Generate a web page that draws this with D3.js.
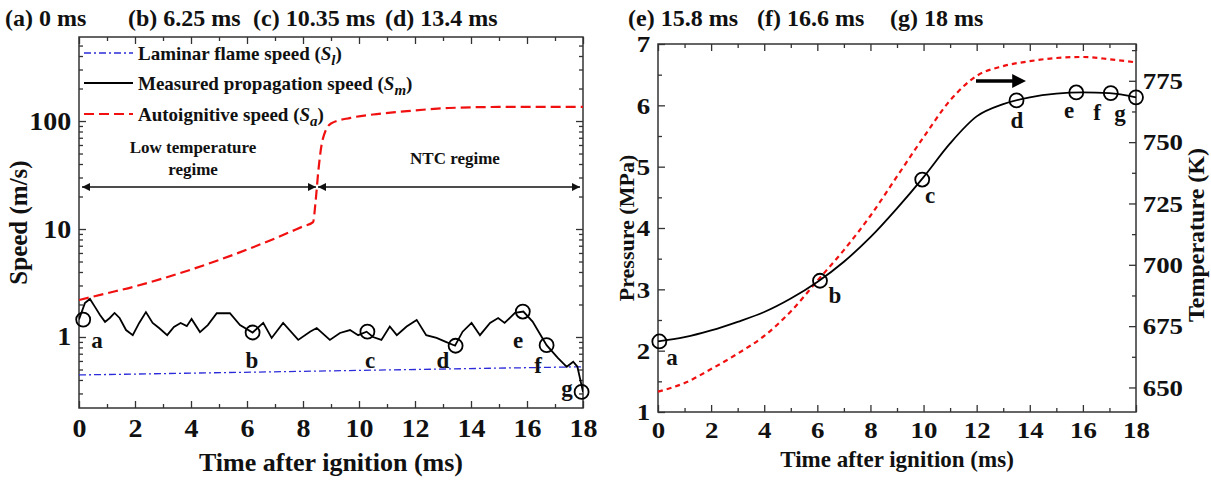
<!DOCTYPE html>
<html>
<head>
<meta charset="utf-8">
<script src="https://cdn.jsdelivr.net/npm/d3@7"></script>
<style>
  body { margin: 0; background: #fff; }
  svg text { font-family: "Liberation Serif", "Times New Roman", serif; font-weight: bold; fill: #111; }
</style>
</head>
<body>
<svg id="chart" width="1211" height="483"></svg>
<script>
// ---- data ----
const frameTitles = ['(a) 0 ms', '(b) 6.25 ms', '(c) 10.35 ms', '(d) 13.4 ms', '(e) 15.8 ms', '(f) 16.6 ms', '(g) 18 ms']

// left panel: speeds (m/s) vs time (ms)
const slT = [0, 18]
const slV = [0.445, 0.53]
const sqT = [0, 1, 2, 3, 4, 5, 6, 7, 8, 8.36, 8.45, 8.55, 8.7, 9, 9.7, 10.5, 11.5, 13.2, 15, 18]
const sqV = [2.2, 2.54, 2.94, 3.49, 4.21, 5.16, 6.45, 8.18, 10.57, 11.6, 18, 35, 67, 95, 107, 115, 122, 132, 135, 135]
const smT = [0, 0.21, 0.39, 0.57, 0.75, 0.93, 1.1, 1.27, 1.45, 1.68, 1.92, 2.15, 2.39, 2.63, 2.86, 3.15, 3.39, 3.63, 3.85, 4.02,
  4.32, 4.6, 4.92, 5.39, 5.75, 6.2, 6.58, 6.88, 7.29, 7.83, 8.25, 8.49, 8.96, 9.32, 9.68, 9.97, 10.27, 10.5, 10.8, 11.1,
  11.35, 11.7, 12.06, 12.4, 12.77, 13.1, 13.43, 13.7, 14.02, 14.32, 14.68, 14.97, 15.2, 15.57, 15.87, 16.2, 16.7, 17.1,
  17.42, 17.65, 17.8, 18]
const smV = [1.45, 2.06, 2.25, 1.9, 1.6, 1.38, 1.5, 1.67, 1.5, 1.16, 1.04, 1.35, 1.7, 1.35, 1.21, 1.04, 1.24, 1.35, 1.26, 1.47,
  1.11, 1.29, 1.66, 1.66, 1.29, 1.1, 1.35, 0.98, 1.35, 0.94, 1.12, 1.21, 0.94, 1.09, 1.16, 1.04, 1.12, 1.0, 0.94, 1.25,
  1.04, 1.25, 1.44, 1.04, 0.98, 0.9, 0.83, 1.12, 1.35, 1.04, 1.35, 1.5, 1.35, 1.67, 1.72, 1.39, 0.84, 0.64,
  0.53, 0.59, 0.53, 0.31]
const markLabels = ['a', 'b', 'c', 'd', 'e', 'f', 'g']
const smMarkT = [0.15, 6.2, 10.3, 13.45, 15.85, 16.7, 17.95]
const smMarkV = [1.45, 1.1, 1.12, 0.83, 1.72, 0.84, 0.31]
const legendNames = ['Laminar flame speed (', 'Measured propagation speed (', 'Autoignitive speed (']
const legendSubs = ['l', 'm', 'a']

// right panel: pressure (MPa) and temperature (K) vs time (ms)
const pT = [0, 1, 2, 3, 4, 5, 6, 7, 8, 9, 10, 11, 12, 13, 14, 15, 16, 17, 18]
const pV = [2.15, 2.22, 2.33, 2.47, 2.63, 2.85, 3.12, 3.45, 3.85, 4.32, 4.83, 5.38, 5.82, 6.02, 6.13, 6.19, 6.21, 6.2, 6.13]
const tT = [0, 1, 2, 3, 4, 5, 6, 7, 8, 9, 10, 11, 12, 13, 14, 15, 16, 17, 18]
const tV = [648.3, 651.8, 657.5, 663.8, 671, 681, 693.5, 706, 720, 736, 752, 767, 777, 781, 783, 784.3, 784.7, 783.8, 782.5]
const pMarkT = [0.05, 6.1, 9.95, 13.5, 15.75, 17.05, 18]
const pMarkV = [2.15, 3.14, 4.79, 6.08, 6.21, 6.2, 6.13]

const timeTicks = d3.range(0, 19, 2)
const timeMinor = d3.range(1, 18, 2)
const speedTicks = [1, 10, 100]
const speedMinor = [0.3, 0.4, 0.5, 0.6, 0.7, 0.8, 0.9, 2, 3, 4, 5, 6, 7, 8, 9, 20, 30, 40, 50, 60, 70, 80, 90, 200, 300, 400, 500]
const pTicks = [1, 2, 3, 4, 5, 6, 7]
const pMinor = [1.5, 2.5, 3.5, 4.5, 5.5, 6.5]
const tempTicks = [650, 675, 700, 725, 750, 775]
const tempMinor = [662.5, 687.5, 712.5, 737.5, 762.5, 787.5]

// ---- layout ----
const svg = d3.select('#chart')
const L = { x0: 79, x1: 583, y0: 37, y1: 408 }
const R = { x0: 658, x1: 1136, y0: 44, y1: 412 }
const titleX = [5, 128, 253, 385, 628, 757, 890]
const stretch = 1.12 // the source lettering is a little wider than Times

const xL = d3.scaleLinear().domain([0, 18]).range([L.x0, L.x1])
const yL = d3.scaleLog().domain([0.22, 600]).range([L.y1, L.y0])
const xR = d3.scaleLinear().domain([0, 18]).range([R.x0, R.x1])
const yP = d3.scaleLinear().domain([1, 7]).range([R.y1, R.y0])
const yT = d3.scaleLinear().domain([640, 790]).range([R.y1, R.y0])

const tickColor = '#333'

function styleAxis(g, fs) {
	g.select('.domain').remove()
	g.selectAll('line').attr('stroke', tickColor).attr('stroke-width', 1.3)
	g.attr('font-family', null).attr('font-size', null)
	g.selectAll('text').attr('font-size', fs).attr('fill', '#111').attr('transform', `scale(${stretch},1)`)
}

function addAxis(axis, tx, ty, fs) {
	const g = svg.append('g').attr('transform', `translate(${tx},${ty})`).call(axis)
	styleAxis(g, fs)
	return g
}

// titles across top
frameTitles.forEach((t, i) => {
	svg.append('text').attr('x', titleX[i]).attr('y', 26).attr('font-size', 24).text(t)
})

// ---- left panel ----
addAxis(d3.axisBottom(xL).tickValues(timeTicks).tickSizeInner(-7).tickSizeOuter(0).tickPadding(11), 0, L.y1, 25)
addAxis(d3.axisBottom(xL).tickValues(timeMinor).tickSizeInner(-4).tickSizeOuter(0).tickFormat(''), 0, L.y1, 22)
addAxis(d3.axisTop(xL).tickValues(timeTicks).tickSizeInner(-7).tickSizeOuter(0).tickFormat(''), 0, L.y0, 22)
addAxis(d3.axisTop(xL).tickValues(timeMinor).tickSizeInner(-4).tickSizeOuter(0).tickFormat(''), 0, L.y0, 22)
addAxis(d3.axisLeft(yL).tickValues(speedTicks).tickSizeInner(-7).tickSizeOuter(0).tickPadding(7).tickFormat(d3.format('d')), L.x0, 0, 25)
addAxis(d3.axisLeft(yL).tickValues(speedMinor).tickSizeInner(-4).tickSizeOuter(0).tickFormat(''), L.x0, 0, 22)
addAxis(d3.axisRight(yL).tickValues(speedTicks).tickSizeInner(-7).tickSizeOuter(0).tickFormat(''), L.x1, 0, 22)
addAxis(d3.axisRight(yL).tickValues(speedMinor).tickSizeInner(-4).tickSizeOuter(0).tickFormat(''), L.x1, 0, 22)

svg.append('rect')
	.attr('x', L.x0).attr('y', L.y0).attr('width', L.x1 - L.x0).attr('height', L.y1 - L.y0)
	.attr('fill', 'none').attr('stroke', tickColor).attr('stroke-width', 1.5)

const clipL = svg.append('clipPath').attr('id', 'clipL')
clipL.append('rect').attr('x', L.x0).attr('y', L.y0).attr('width', L.x1 - L.x0).attr('height', L.y1 - L.y0)

const lineL = d3.line().x(d => xL(d[0])).y(d => yL(d[1]))
const pL = svg.append('g').attr('clip-path', 'url(#clipL)')

pL.append('path').datum(d3.zip(slT, slV))
	.attr('d', lineL).attr('fill', 'none').attr('stroke', '#2b2bd9').attr('stroke-width', 1.3)
	.attr('stroke-dasharray', '7,3,2,3')
pL.append('path').datum(d3.zip(sqT, sqV))
	.attr('d', lineL.curve(d3.curveMonotoneX)).attr('fill', 'none').attr('stroke', '#f01010').attr('stroke-width', 2.2)
	.attr('stroke-dasharray', '10,5')
lineL.curve(d3.curveLinear)
pL.append('path').datum(d3.zip(smT, smV))
	.attr('d', lineL).attr('fill', 'none').attr('stroke', '#000').attr('stroke-width', 1.8)

svg.append('g').selectAll('circle').data(d3.zip(smMarkT, smMarkV)).join('circle')
	.attr('cx', d => xL(d[0])).attr('cy', d => yL(d[1])).attr('r', 7)
	.attr('fill', 'none').attr('stroke', '#000').attr('stroke-width', 1.8)

const smLabelPos = [[97, 340], [252, 360], [370, 360], [443, 360], [518, 340], [538, 365], [567, 388]]
markLabels.forEach((m, i) => {
	svg.append('text').attr('x', smLabelPos[i][0]).attr('y', smLabelPos[i][1]).attr('dy', '0.35em')
		.attr('text-anchor', 'middle').attr('font-size', 23).text(m)
})

// legend
const legY = [53, 83, 114]
const legStyle = [
	{ stroke: '#2b2bd9', width: 1.3, dash: '7,3,2,3' },
	{ stroke: '#000', width: 1.8, dash: null },
	{ stroke: '#f01010', width: 2.2, dash: '10,5' },
]
legendNames.forEach((name, i) => {
	svg.append('line').attr('x1', 84).attr('x2', 133).attr('y1', legY[i]).attr('y2', legY[i])
		.attr('stroke', legStyle[i].stroke).attr('stroke-width', legStyle[i].width)
		.attr('stroke-dasharray', legStyle[i].dash)
	const t = svg.append('text').attr('x', 138).attr('y', legY[i]).attr('dy', '0.35em').attr('font-size', 19)
	t.append('tspan').text(name)
	t.append('tspan').attr('font-style', 'italic').text('S')
	t.append('tspan').attr('font-style', 'italic').attr('font-size', 15).attr('dy', 5).text(legendSubs[i])
	t.append('tspan').attr('dy', -5).text(')')
})

// regime annotations
const defs = svg.append('defs')
defs.append('marker').attr('id', 'ah').attr('viewBox', '0 0 10 10').attr('refX', 10).attr('refY', 5)
	.attr('markerWidth', 10).attr('markerHeight', 8).attr('markerUnits', 'userSpaceOnUse').attr('orient', 'auto-start-reverse')
	.append('path').attr('d', 'M0,0 L10,5 L0,10 Z').attr('fill', '#111')
const arrowY = 187
;[[82, 316], [318, 580]].forEach(([a, b]) => {
	svg.append('line').attr('x1', a).attr('x2', b).attr('y1', arrowY).attr('y2', arrowY)
		.attr('stroke', '#111').attr('stroke-width', 1.5)
		.attr('marker-start', 'url(#ah)').attr('marker-end', 'url(#ah)')
})
svg.append('text').attr('x', 193).attr('y', 147).attr('dy', '0.35em').attr('text-anchor', 'middle').attr('font-size', 17).text('Low temperature')
svg.append('text').attr('x', 193).attr('y', 169).attr('dy', '0.35em').attr('text-anchor', 'middle').attr('font-size', 17).text('regime')
svg.append('text').attr('x', 455).attr('y', 158).attr('dy', '0.35em').attr('text-anchor', 'middle').attr('font-size', 17).text('NTC regime')

// axis titles
svg.append('text').attr('transform', `translate(18,${(L.y0 + L.y1) / 2}) rotate(-90)`)
	.attr('text-anchor', 'middle').attr('dy', '0.35em').attr('font-size', 25).text('Speed (m/s)')
svg.append('text').attr('x', (L.x0 + L.x1) / 2).attr('y', 471).attr('text-anchor', 'middle').attr('font-size', 26)
	.text('Time after ignition (ms)')

// ---- right panel ----
addAxis(d3.axisBottom(xR).tickValues(timeTicks).tickSizeInner(-7).tickSizeOuter(0).tickPadding(9), 0, R.y1, 24)
addAxis(d3.axisBottom(xR).tickValues(timeMinor).tickSizeInner(-4).tickSizeOuter(0).tickFormat(''), 0, R.y1, 22)
addAxis(d3.axisTop(xR).tickValues(timeTicks).tickSizeInner(-7).tickSizeOuter(0).tickFormat(''), 0, R.y0, 22)
addAxis(d3.axisTop(xR).tickValues(timeMinor).tickSizeInner(-4).tickSizeOuter(0).tickFormat(''), 0, R.y0, 22)
addAxis(d3.axisLeft(yP).tickValues(pTicks).tickSizeInner(-7).tickSizeOuter(0).tickPadding(7).tickFormat(d3.format('d')), R.x0, 0, 24)
addAxis(d3.axisLeft(yP).tickValues(pMinor).tickSizeInner(-4).tickSizeOuter(0).tickFormat(''), R.x0, 0, 22)
addAxis(d3.axisRight(yT).tickValues(tempTicks).tickSizeInner(-7).tickSizeOuter(0).tickPadding(6).tickFormat(d3.format('d')), R.x1, 0, 24)
addAxis(d3.axisRight(yT).tickValues(tempMinor).tickSizeInner(-4).tickSizeOuter(0).tickFormat(''), R.x1, 0, 22)

svg.append('rect')
	.attr('x', R.x0).attr('y', R.y0).attr('width', R.x1 - R.x0).attr('height', R.y1 - R.y0)
	.attr('fill', 'none').attr('stroke', tickColor).attr('stroke-width', 1.5)

const lineP = d3.line().x(d => xR(d[0])).y(d => yP(d[1])).curve(d3.curveMonotoneX)
const lineT = d3.line().x(d => xR(d[0])).y(d => yT(d[1])).curve(d3.curveMonotoneX)

svg.append('path').datum(d3.zip(tT, tV))
	.attr('d', lineT).attr('fill', 'none').attr('stroke', '#f01010').attr('stroke-width', 2.2)
	.attr('stroke-dasharray', '5,4')
svg.append('path').datum(d3.zip(pT, pV))
	.attr('d', lineP).attr('fill', 'none').attr('stroke', '#000').attr('stroke-width', 1.8)

svg.append('g').selectAll('circle').data(d3.zip(pMarkT, pMarkV)).join('circle')
	.attr('cx', d => xR(d[0])).attr('cy', d => yP(d[1])).attr('r', 7)
	.attr('fill', 'none').attr('stroke', '#000').attr('stroke-width', 1.8)

const pLabelPos = [[672, 357], [835, 295], [930, 195], [1017, 120], [1069, 110], [1097, 112], [1120, 113]]
markLabels.forEach((m, i) => {
	svg.append('text').attr('x', pLabelPos[i][0]).attr('y', pLabelPos[i][1]).attr('dy', '0.35em')
		.attr('text-anchor', 'middle').attr('font-size', 23).text(m)
})

// arrow pointing to the temperature axis
defs.append('marker').attr('id', 'ahBig').attr('viewBox', '0 0 10 10').attr('refX', 2).attr('refY', 5)
	.attr('markerWidth', 4).attr('markerHeight', 4).attr('orient', 'auto')
	.append('path').attr('d', 'M0,0 L10,5 L0,10 Z').attr('fill', '#000')
svg.append('line').attr('x1', 976).attr('x2', 1015).attr('y1', 81).attr('y2', 81)
	.attr('stroke', '#000').attr('stroke-width', 3.5).attr('marker-end', 'url(#ahBig)')

svg.append('text').attr('transform', `translate(626,${(R.y0 + R.y1) / 2}) rotate(-90)`)
	.attr('text-anchor', 'middle').attr('dy', '0.35em').attr('font-size', 22).text('Pressure (MPa)')
svg.append('text').attr('transform', `translate(1196,${(R.y0 + R.y1) / 2 + 7}) rotate(-90)`)
	.attr('text-anchor', 'middle').attr('dy', '0.35em').attr('font-size', 24).text('Temperature (K)')
svg.append('text').attr('x', (R.x0 + R.x1) / 2).attr('y', 467).attr('text-anchor', 'middle').attr('font-size', 23)
	.text('Time after ignition (ms)')
</script>
</body>
</html>
